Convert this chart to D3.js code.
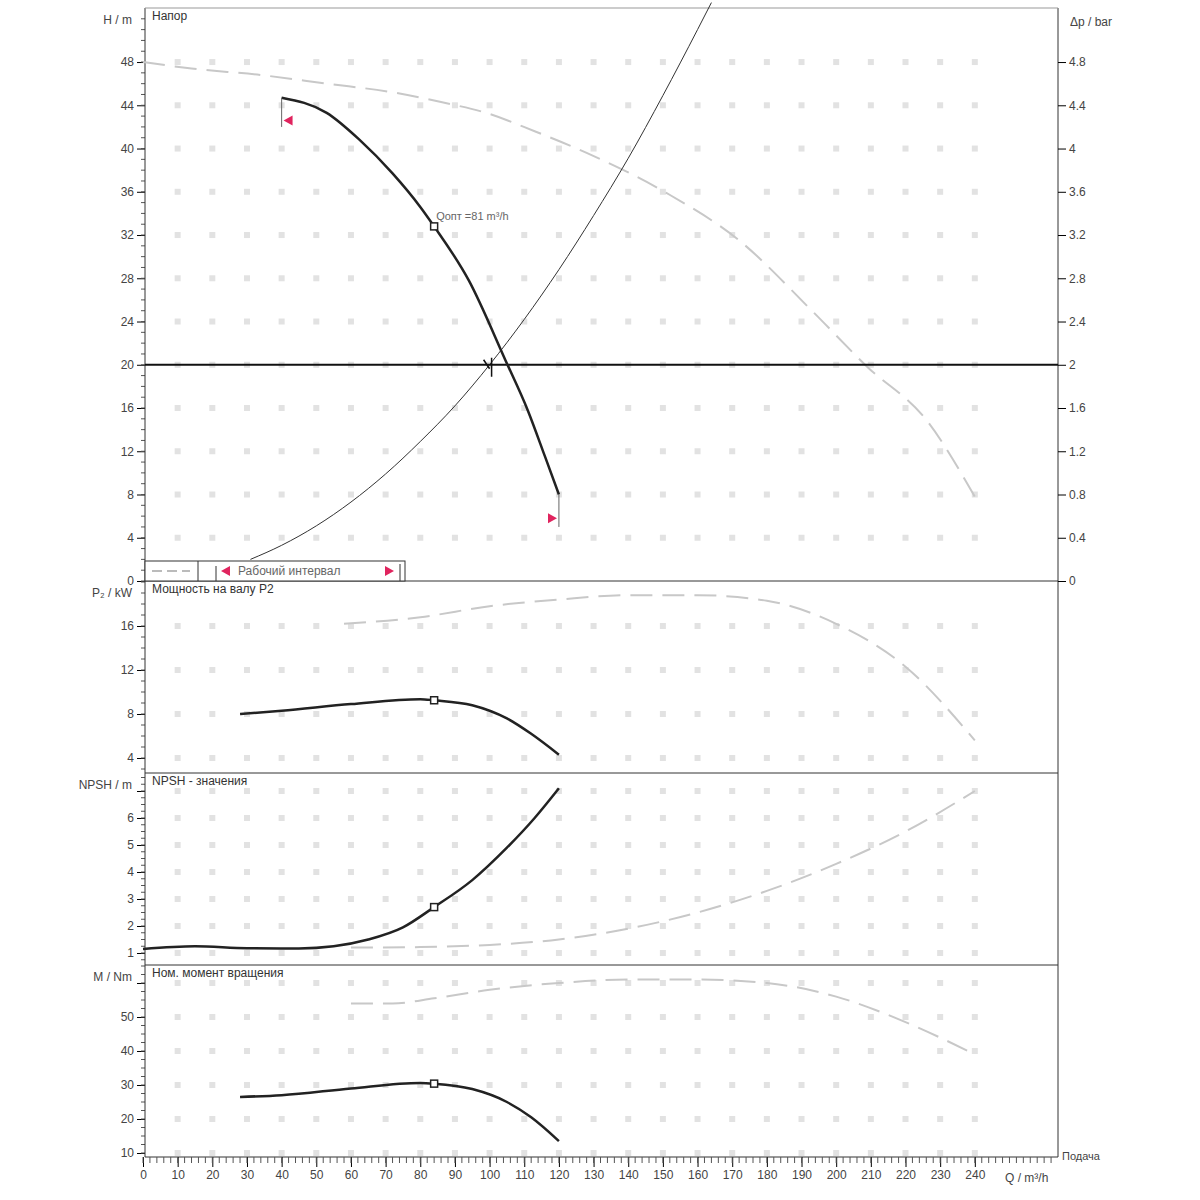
<!DOCTYPE html>
<html><head><meta charset="utf-8">
<script src="https://cdn.jsdelivr.net/npm/d3@7"></script>
<style>body{margin:0;background:#fff}text{font-family:"Liberation Sans",Arial,sans-serif}</style>
</head><body><svg id="canvas" width="1200" height="1200"></svg>
<script>
const flowTicks = d3.range(0, 250, 10);
const headTicks = [0, 4, 8, 12, 16, 20, 24, 28, 32, 36, 40, 44, 48];
const pressureTicks = [0, 0.4, 0.8, 1.2, 1.6, 2, 2.4, 2.8, 3.2, 3.6, 4, 4.4, 4.8];
const powerTicks = [4, 8, 12, 16];
const npshTicks = [1, 2, 3, 4, 5, 6, 7];
const torqueTicks = [10, 20, 30, 40, 50, 60];

const headMain = [[40,44.7],[53,43.3],[62.5,40.8],[72,37.7],[80,34.6],[84,32.8],[94,27.8],[104.6,20.4],[111,15.8],[116,11.5],[120,8]];
const headFull = [[0,48],[14,47.4],[34,46.8],[53,46],[72,45.2],[86,44.3],[99,43.3],[113,41.6],[128,39.6],[151,35.9],[172,31.5],[193,25],[209,19.8],[226,14.9],[240,7.8]];
const systemCurve = [[31,2],[40,3.3],[50,5.1],[60,7.3],[70,9.9],[80,12.9],[90,16.2],[100,20],[110,24.2],[120,28.8],[130,33.8],[140,39.1],[150,44.9],[160,51],[164,53.5]];
const powerMain = [[28,8],[40,8.3],[60,8.9],[80,9.35],[84,9.25],[95,8.8],[105,7.6],[112,6.2],[120,4.3]];
const powerFull = [[58,16.2],[80,16.8],[100,17.8],[120,18.4],[140,18.8],[160,18.8],[180,18.3],[200,16.2],[220,12.3],[240,5.6]];
const npshMain = [[0,1.15],[15,1.25],[30,1.18],[45,1.17],[55,1.25],[65,1.5],[75,1.95],[84,2.7],[95,3.7],[105,4.9],[113,6],[120,7.1]];
const npshFull = [[60,1.2],[80,1.22],[100,1.3],[120,1.5],[140,1.9],[160,2.5],[180,3.3],[200,4.3],[220,5.5],[240,7]];
const torqueMain = [[28,26.5],[40,27],[60,29],[80,30.6],[84,30.4],[95,28.8],[105,25],[112,20.5],[120,13.5]];
const torqueFull = [[60,54],[72,54],[84,55.5],[100,58],[120,60],[140,61],[160,61],[180,60],[200,56],[220,48.5],[240,39]];
const opPoint = [84, 32.8];
const dutyPoint = [100, 20];
const rangeMarks = [[42, 42.6, "left"], [118, 5.8, "right"]];

const svg = d3.select("#canvas");
const L = 145, R = 1058;
const x = d3.scaleLinear().domain([0, 264]).range([143, R]);
const panels = [
  {top: 8, bot: 581, y: d3.scaleLinear().domain([0, 52]).range([581, 18.8]), ticks: headTicks, unit: "H / m", title: "Напор"},
  {top: 581, bot: 773, y: d3.scaleLinear().domain([0, 20]).range([802, 582]), ticks: powerTicks, unit: "P₂ / kW", title: "Мощность на валу P2"},
  {top: 773, bot: 965, y: d3.scaleLinear().domain([1, 7]).range([953, 791]), ticks: npshTicks, unit: "NPSH / m", title: "NPSH - значения"},
  {top: 965, bot: 1157, y: d3.scaleLinear().domain([10, 60]).range([1153, 983]), ticks: torqueTicks, unit: "M / Nm", title: "Ном. момент вращения"}
];

panels.forEach(p => {
  const g = svg.append("g");
  // dotted grid
  flowTicks.filter(v => v > 0).forEach(fx => p.ticks.forEach(t => {
    const yy = p.y(t);
    if (yy > p.top + 4 && yy < p.bot - 2)
      g.append("rect").attr("x", x(fx) - 3).attr("y", yy - 3).attr("width", 6).attr("height", 6).attr("fill", "#e2e2e2");
  }));
  g.append("line").attr("x1", L).attr("x2", R).attr("y1", p.bot).attr("y2", p.bot).attr("stroke", "#333");
  g.append("text").attr("x", 152).attr("y", p.top + 12).attr("font-size", 12).attr("fill", "#333").text(p.title);
  g.append("text").attr("x", 132).attr("y", p.top + 16).attr("text-anchor", "end").attr("font-size", 12).attr("fill", "#444").text(p.unit);
  const ax = d3.axisLeft(p.y).tickValues(p.ticks.filter(t => p.y(t) > p.top + 9)).tickSize(8)
    .tickFormat(t => p.y(t) > p.top + 24 ? d3.format("~g")(t) : "");
  const a = g.append("g").attr("transform", `translate(${L},0)`).call(ax);
  a.select(".domain").remove();
  a.selectAll("text").attr("font-size", 12).attr("fill", "#444");
  // minor ticks
  const step = (p.ticks[1] - p.ticks[0]) / 4;
  for (let v = Math.ceil(p.y.invert(p.bot) / step) * step; p.y(v) >= p.top; v += step)
    g.append("line").attr("x1", L - 4).attr("x2", L).attr("y1", p.y(v)).attr("y2", p.y(v)).attr("stroke", "#555");
});
svg.append("line").attr("x1", L).attr("x2", L).attr("y1", 8).attr("y2", 1157).attr("stroke", "#333");
svg.append("line").attr("x1", R).attr("x2", R).attr("y1", 8).attr("y2", 1157).attr("stroke", "#333");
svg.append("line").attr("x1", L).attr("x2", R).attr("y1", 8).attr("y2", 8).attr("stroke", "#999");

// right pressure axis
const yp = d3.scaleLinear().domain([0, 5.2]).range([581, 18.8]);
const ra = svg.append("g").attr("transform", `translate(${R},0)`).call(d3.axisRight(yp).tickValues(pressureTicks).tickSize(8).tickFormat(d3.format("~g")));
ra.select(".domain").remove();
ra.selectAll("text").attr("font-size", 12).attr("fill", "#444");
svg.append("text").attr("x", 1070).attr("y", 26).attr("font-size", 12).attr("fill", "#444").text("Δp / bar");

// bottom axis
const ba = svg.append("g").attr("transform", "translate(0,1157)").call(d3.axisBottom(x).tickValues(flowTicks).tickSize(10).tickFormat(d3.format("d")));
ba.select(".domain").remove();
ba.selectAll("text").attr("font-size", 12).attr("fill", "#444");
d3.range(0, 264, 2).forEach(v => svg.append("line").attr("x1", x(v)).attr("x2", x(v)).attr("y1", 1157).attr("y2", 1163).attr("stroke", "#555"));
svg.append("text").attr("x", 1005).attr("y", 1182).attr("font-size", 12).attr("fill", "#444").text("Q / m³/h");
svg.append("text").attr("x", 1062).attr("y", 1160).attr("font-size", 11).attr("fill", "#444").text("Подача");

const line = y => d3.line().x(d => x(d[0])).y(d => y(d[1])).curve(d3.curveMonotoneX);
const draw = (data, y, main) => svg.append("path").attr("d", line(y)(data)).attr("fill", "none")
  .attr("stroke", main ? "#222" : "#c8c8c8").attr("stroke-width", main ? 2.5 : 2)
  .attr("stroke-dasharray", main ? null : "22,10");

const [pH, pP, pN, pM] = panels;
draw(headFull, pH.y, false);
draw(powerFull, pP.y, false);
draw(npshFull, pN.y, false);
draw(torqueFull, pM.y, false);
svg.append("path").attr("d", line(pH.y)(systemCurve)).attr("fill", "none").attr("stroke", "#333").attr("stroke-width", 1);
svg.append("line").attr("x1", L).attr("x2", R).attr("y1", pH.y(20)).attr("y2", pH.y(20)).attr("stroke", "#111").attr("stroke-width", 2);
draw(headMain, pH.y, true);
draw(powerMain, pP.y, true);
draw(npshMain, pN.y, true);
draw(torqueMain, pM.y, true);
svg.append("line").attr("x1", x(40)).attr("x2", x(40)).attr("y1", pH.y(44.7)).attr("y2", pH.y(42)).attr("stroke", "#666");
svg.append("line").attr("x1", x(120)).attr("x2", x(120)).attr("y1", pH.y(8)).attr("y2", pH.y(5)).attr("stroke", "#666");

// op point markers
[[pH, opPoint[1]], [pP, 9.25], [pN, 2.7], [pM, 30.4]].forEach(([p, v]) =>
  svg.append("rect").attr("x", x(opPoint[0]) - 3.5).attr("y", p.y(v) - 3.5).attr("width", 7).attr("height", 7)
    .attr("fill", "#fff").attr("stroke", "#222").attr("stroke-width", 1.5));
svg.append("text").attr("x", x(opPoint[0]) + 2).attr("y", pH.y(opPoint[1]) - 6).attr("font-size", 11).attr("fill", "#666").text("Qопт =81 m³/h");
svg.append("path").attr("d", `M${x(dutyPoint[0]) - 6},${pH.y(20) - 5}L${x(dutyPoint[0])},${pH.y(20) + 4}M${x(dutyPoint[0]) + 2},${pH.y(20) - 7}V${pH.y(20) + 12}`)
  .attr("stroke", "#111").attr("stroke-width", 1.5).attr("fill", "none");

const tri = (cx, cy, dir) => dir === "left" ? `M${cx - 5},${cy}L${cx + 4},${cy - 5}L${cx + 4},${cy + 5}Z` : `M${cx + 5},${cy}L${cx - 4},${cy - 5}L${cx - 4},${cy + 5}Z`;
rangeMarks.forEach(([q, h, dir]) => svg.append("path").attr("d", tri(x(q), pH.y(h), dir)).attr("fill", "#e0245e"));

// legend
const lg = svg.append("g");
lg.append("rect").attr("x", L).attr("y", 561).attr("width", 260).attr("height", 20).attr("fill", "#fff").attr("stroke", "#333");
lg.append("line").attr("x1", 198).attr("x2", 198).attr("y1", 561).attr("y2", 581).attr("stroke", "#333");
lg.append("line").attr("x1", 152).attr("x2", 190).attr("y1", 571).attr("y2", 571).attr("stroke", "#bbb").attr("stroke-width", 2).attr("stroke-dasharray", "10,5");
lg.append("line").attr("x1", 216).attr("x2", 216).attr("y1", 566).attr("y2", 581).attr("stroke", "#333");
lg.append("path").attr("d", tri(226, 571, "left")).attr("fill", "#e0245e");
lg.append("text").attr("x", 238).attr("y", 575).attr("font-size", 12).attr("fill", "#666").text("Рабочий интервал");
lg.append("path").attr("d", tri(389, 571, "right")).attr("fill", "#e0245e");
lg.append("line").attr("x1", 400).attr("x2", 400).attr("y1", 564).attr("y2", 581).attr("stroke", "#333");
</script></body></html>
